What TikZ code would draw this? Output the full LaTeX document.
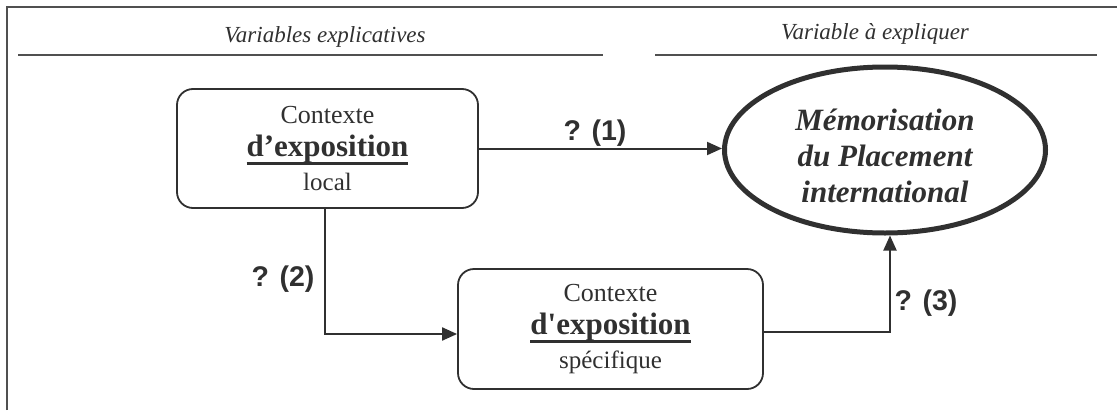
\documentclass[tikz,border=0pt]{standalone}
\usepackage{fontspec}
\setmainfont{Liberation Serif}
\setsansfont{Liberation Sans}
\usetikzlibrary{arrows.meta,shapes.geometric}
\definecolor{ink}{HTML}{303030}
\definecolor{rulegray}{HTML}{505050}
\newcommand\ulx[1]{\setbox0\hbox{#1}\rlap{\rule[-8pt]{\wd0}{3pt}}\box0}
\tikzset{
  box/.style={draw=ink, line width=1.8pt, rounded corners=16pt, text=ink, align=center, inner sep=0pt,
    font=\fontsize{26}{33.5}\selectfont},
  lab/.style={font=\sffamily\bfseries\fontsize{28.5}{28.5}\selectfont, text=ink, inner sep=0pt, anchor=base},
  conn/.style={draw=ink, line width=2pt, -{Triangle[length=15pt,width=13pt]}},
  hdr/.style={font=\itshape\fontsize{23}{23}\selectfont, text=ink, anchor=base, inner sep=0pt},
  hline/.style={draw=rulegray, line width=2.5pt},
  memo/.style={draw=ink, line width=5pt, ellipse, inner sep=0pt, text=ink, align=center,
    font=\bfseries\itshape\fontsize{31}{36}\selectfont}
}
\begin{document}
\begin{tikzpicture}[x=1pt,y=-1pt]
\useasboundingbox (0,0) rectangle (1117,410);
% frame
\draw[hline] (7,410) -- (7,7) -- (1117,7);
% header
\node[hdr] (h1) at (325,42) {Variables explicatives};
\node[hdr] (h2) at (875,39) {Variable à expliquer};
\draw[hline] (18,55) -- (603,55);
\draw[hline] (655,55) -- (1097,55);
% nodes
\node[box, minimum width=301pt, minimum height=119pt] (b1) at (327.5,148.5)
  {Contexte\\{\bfseries\fontsize{31}{33.5}\selectfont\ulx{d’exposition}}\\{\fontsize{25}{33.5}\selectfont local}};
\node[box, minimum width=305pt, minimum height=120pt] (b2) at (610.5,329)
  {Contexte\\{\bfseries\fontsize{31}{33.5}\selectfont\ulx{d\textquotesingle exposition}}\\{\fontsize{25}{33.5}\selectfont spécifique}};
\node[memo, minimum width=321pt, minimum height=166pt] (m) at (885,150)
  {\rule{0pt}{34pt}Mémorisation\\du Placement\\international};
% connectors
\draw[conn] (b1.east) -- (b1.east -| m.west);
\draw[conn] ([xshift=-2.5pt]b1.south) |- ([yshift=-5pt]b2.west);
\draw[conn] ([yshift=-3pt]b2.east) -| ([xshift=5pt]m.south);
% labels
\node[lab] (l1) at (595,140) {? (1)};
\node[lab] (l2) at (283,286) {? (2)};
\node[lab] (l3) at (926,310) {? (3)};
\end{tikzpicture}
\end{document}
